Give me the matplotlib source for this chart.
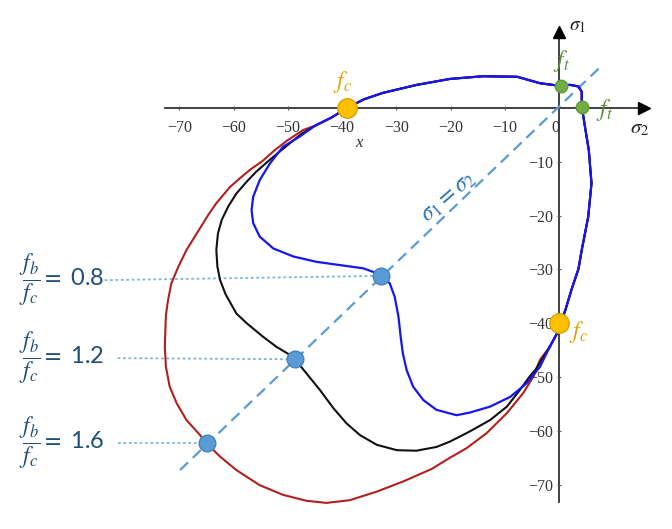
import matplotlib
matplotlib.use("Agg")
import matplotlib.pyplot as plt

plt.rcParams['mathtext.fontset'] = 'stix'

# ---- data (sigma2 = x, sigma1 = y, MPa) ----
# shared part of the envelope: right side, tension corner, top arc, down to left divergence
shared_x = [-1.7, -0.2, 1.2, 2.3, 3.6, 4.2, 5.4, 6.0, 5.5, 4.8, 4.5, 4.2, 4.2, 4.2, 3.6, 2.0, 0.3,
            -3.5, -7.7, -14.0, -20.1, -26.2, -32.5, -36.0, -39.1, -42.0, -45.0]
shared_y = [-44.4, -41.6, -37.5, -33.8, -29.9, -26.4, -20.2, -14.0, -7.8, -3.5, -1.6, 0.2, 1.5, 3.0, 4.0, 4.3, 4.1,
            4.6, 5.8, 5.9, 5.4, 4.3, 2.8, 1.6, 0.0, -1.8, -3.3]

# fb/fc = 1.6 branch (red)
red_x = [-47.2, -50.2, -52.5, -54.6, -57.0, -58.9, -60.7, -63.2, -64.7, -66.8, -68.7, -70.2, -71.5, -72.1,
         -72.5, -72.6, -72.7, -72.5, -71.8, -70.5, -68.7, -66.2, -65.0, -62.5, -59.5, -55.2, -50.9, -46.6,
         -42.9, -38.6, -33.6, -28.7, -23.5, -20.1, -17.0, -13.3, -9.6, -6.6, -4.7, -3.5]
red_y = [-4.1, -6.1, -7.9, -9.8, -11.5, -13.1, -14.7, -17.7, -19.9, -23.3, -26.4, -29.5, -32.6, -35.7,
         -38.5, -41.3, -44.4, -48.1, -51.8, -54.9, -58.0, -60.8, -62.3, -64.8, -67.3, -70.1, -71.9, -73.0,
         -73.4, -72.9, -71.3, -69.4, -67.1, -65.0, -63.2, -60.4, -56.7, -53.0, -49.9, -46.8]

# fb/fc = 1.2 branch (black)
black_x = [-47.5, -50.9, -53.3, -55.8, -57.6, -59.5, -61.0, -62.2, -62.9, -63.2, -63.0, -62.5, -61.5,
           -59.5, -57.6, -54.6, -52.1, -49.6, -48.7, -46.6, -44.1, -41.6, -39.2, -36.7, -33.6, -29.9,
           -26.3, -22.6, -20.1, -16.6, -12.7, -9.6, -7.2, -5.4, -4.3]
black_y = [-4.8, -7.6, -9.6, -11.8, -13.7, -15.9, -18.3, -20.8, -23.3, -26.4, -29.5, -32.0, -34.6,
           -38.2, -40.0, -42.5, -44.4, -45.9, -46.7, -49.3, -52.4, -55.8, -58.6, -60.8, -62.6, -63.6,
           -63.7, -63.0, -62.0, -60.2, -58.0, -55.5, -52.4, -49.9, -48.6]

# fb/fc = 0.8 branch (blue)
blue_x = [-47.8, -50.9, -53.3, -55.2, -56.4, -56.7, -56.4, -55.2, -52.7, -49.0, -44.7, -40.4, -36.1,
          -33.6, -32.8, -31.2, -30.3, -29.6, -29.2, -28.8, -28.1, -26.9, -25.0, -22.6, -18.9, -16.4,
          -12.7, -9.0, -6.0, -3.5]
blue_y = [-5.3, -7.2, -10.3, -13.4, -16.5, -19.0, -21.4, -23.9, -26.1, -27.6, -28.6, -29.2, -29.8,
          -30.7, -31.2, -32.6, -35.1, -38.8, -42.5, -45.6, -48.7, -51.8, -54.3, -56.1, -57.1, -56.6,
          -55.5, -53.7, -51.2, -48.1]

# biaxial points on the sigma1 = sigma2 line
ratio_labels = ['0.8', '1.2', '1.6']
ratio_x = [-32.8, -48.7, -65.0]
ratio_y = [-31.2, -46.7, -62.3]
guide_start_x = [-83.8, -81.4, -81.4]
guide_start_y = [-32.0, -46.5, -62.3]

# characteristic strengths
fc_x = [-39.1, 0.0]
fc_y = [0.0, -40.0]
ft_x = [0.3, 4.2]
ft_y = [4.0, 0.2]

# diagonal sigma1 = sigma2
diag_x = [-69.9, 7.4]
diag_y = [-67.3, 7.4]

xtick_vals = [-70, -60, -50, -40, -30, -20, -10, 0]
xtick_labels = ['\u221270', '\u221260', '\u221250', '\u221240', '\u221230', '\u221220', '\u221210', '0']
ytick_vals = [-70, -60, -50, -40, -30, -20, -10]
ytick_labels = ['\u221270', '\u221260', '\u221250', '\u221240', '\u221230', '\u221220', '\u221210']

# ---- figure ----
fig = plt.figure(figsize=(6.72, 5.29), dpi=100)
ax = fig.add_axes([0, 0, 1, 1])
ax.set_xlim(-103.1, 20.85)
ax.set_ylim(-78.25, 20.07)

for s in ['top', 'right']:
    ax.spines[s].set_visible(False)
ax.spines['left'].set_position(('data', 0))
ax.spines['bottom'].set_position(('data', 0))
ax.spines['bottom'].set_bounds(-72.7, 15.5)
ax.spines['left'].set_bounds(-73.2, 14.0)
for s in ['left', 'bottom']:
    ax.spines[s].set_color('#333333')
    ax.spines[s].set_linewidth(1.3)
    ax.spines[s].set_zorder(1)

tick_font = dict(fontfamily='Liberation Serif', fontsize=11.5, color='#333333')
ax.set_xticks(xtick_vals, labels=xtick_labels, **tick_font)
ax.set_yticks(ytick_vals, labels=ytick_labels, **tick_font)
ax.tick_params(axis='both', direction='inout', length=3, width=0.8, colors='#555555',
               labelcolor='#333333')
ax.tick_params(axis='x', pad=7)
ax.tick_params(axis='y', pad=3)
ax.get_xticklabels()[-1].set_horizontalalignment('right')

# arrow heads
ax.plot([15.6], [0], marker='>', color='black', ms=9, clip_on=False, zorder=2)
ax.plot([0], [14.2], marker='^', color='black', ms=9, clip_on=False, zorder=2)

# diagonal
ax.plot(diag_x, diag_y, color='#5B9BD5', lw=1.6, ls=(0, (5, 3)), zorder=2)

# envelopes
def closed(bx, by):
    return shared_x + bx + [shared_x[0]], shared_y + by + [shared_y[0]]

rx, ry = closed(red_x, red_y)
kx, ky = closed(black_x, black_y)
bx, by = closed(blue_x, blue_y)
ax.plot(rx, ry, color='#B0201C', lw=1.5, zorder=3, solid_joinstyle='round')
ax.plot(kx, ky, color='#111111', lw=1.5, zorder=4, solid_joinstyle='round')
ax.plot(bx, by, color='#1515F5', lw=1.6, zorder=5, solid_joinstyle='round')

# dotted guides and labels
for lab, mx, my, gx, gy in zip(ratio_labels, ratio_x, ratio_y, guide_start_x, guide_start_y):
    ax.plot([gx, mx], [gy, my], color='#7FB2E0', lw=1.3, ls=(0, (1.5, 1.5)), clip_on=False, zorder=2)
    ax.plot([mx], [my], 'o', ms=12, mfc='#5B9BD5', mec='#4A82B8', mew=1.0, zorder=7, clip_on=False)
    ax.text(-91.8, gy, r'$\dfrac{f_b}{f_c}=$ ' + lab, fontsize=17, color='#1F4E79',
            fontfamily='Lato', ha='center', va='center')

# strength markers
ax.plot(fc_x, fc_y, 'o', ms=14, mfc='#FFC000', mec='#D9A300', mew=1.0, ls='none', zorder=7)
ax.plot(ft_x, ft_y, 'o', ms=9, mfc='#70AD47', mec='#5E9A3A', mew=1.0, ls='none', zorder=7)

ax.text(-39.9, 4.9, r'$f_c$', fontsize=17, color='#D9A300', ha='center', va='center')
ax.text(3.6, -41.6, r'$f_c$', fontsize=17, color='#D9A300', ha='center', va='center')
ax.text(0.5, 8.7, r'$f_t$', fontsize=17, color='#5B8C3A', ha='center', va='center')
ax.text(8.4, -0.4, r'$f_t$', fontsize=17, color='#5B8C3A', ha='center', va='center')

# axis labels
ax.text(3.5, 15.4, r'$\sigma_1$', fontsize=14, color='#222222', ha='center', va='center')
ax.text(14.9, -3.8, r'$\sigma_2$', fontsize=15, color='#222222', ha='center', va='center')
ax.text(-36.9, -6.6, 'x', fontsize=12, fontstyle='italic', fontfamily='Liberation Serif',
        color='#333333', ha='center', va='center')

# diagonal label
ax.text(-20.5, -16.4, r'$\sigma_1 = \sigma_2$', fontsize=17, color='#2E75B6', rotation=41,
        rotation_mode='anchor', ha='center', va='center')

fig.savefig('out.png', dpi=100, facecolor='white')
